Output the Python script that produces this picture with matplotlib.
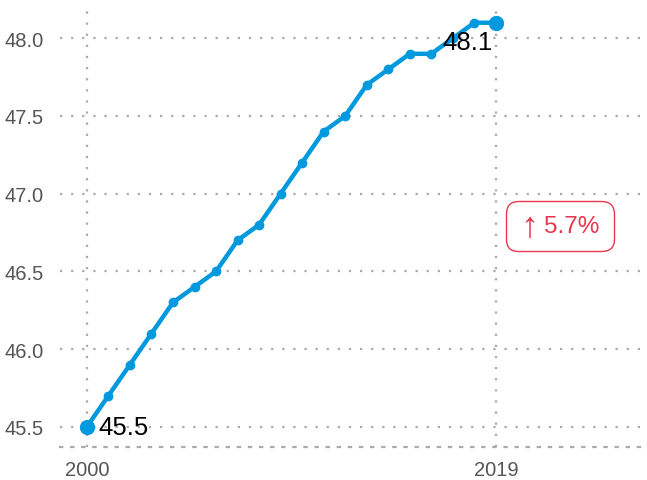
import matplotlib.pyplot as plt
from matplotlib.offsetbox import TextArea, HPacker, AnnotationBbox, DrawingArea

plt.rcParams['font.family'] = ['Liberation Sans', 'DejaVu Sans']

years = list(range(2000, 2020))
values = [45.5, 45.7, 45.9, 46.1, 46.3, 46.4, 46.5, 46.7, 46.8, 47.0,
          47.2, 47.4, 47.5, 47.7, 47.8, 47.9, 47.9, 48.0, 48.1, 48.1]
yticks = [45.5, 46.0, 46.5, 47.0, 47.5, 48.0]
xticks = [2000, 2019]

blue = '#0099DD'
red = '#E8384F'
grid_col = '#AAAAAA'
dots = (0, (1, 4))

fig = plt.figure(figsize=(6.47, 4.81), dpi=100)
ax = fig.add_axes([0.0927, 0.0686, 0.8963, 0.9144])

ax.plot(years, values, color=blue, lw=3.2, marker='o', ms=6, zorder=3,
        solid_capstyle='round')
ax.plot([years[0], years[-1]], [values[0], values[-1]], 'o', color=blue,
        ms=10, zorder=4)

ax.annotate(f'{values[0]:.1f}', (years[0], values[0]), xytext=(8, 0),
            textcoords='offset points', ha='left', va='center',
            fontsize=18.5, color='black', zorder=5)
ax.annotate(f'{values[-1]:.1f}', (years[-1], values[-1]), xytext=(-2, -14),
            textcoords='offset points', ha='right', va='center',
            fontsize=18.5, color='black', zorder=5)

# change badge: tall thin arrow + percentage in a rounded box
pct = (values[-1] - values[0]) / values[0] * 100
arrow = TextArea('↑', textprops=dict(fontsize=26, color=red,
                                     family='Liberation Sans'))
label = TextArea(f'{pct:.1f}%', textprops=dict(fontsize=17.5, color=red))
badge = HPacker(children=[DrawingArea(1, 1), arrow, label, DrawingArea(1, 1)],
                align='center', pad=0, sep=4)
ab = AnnotationBbox(badge, (0.862, 0.502), xycoords='axes fraction',
                    frameon=True, pad=0.55,
                    bboxprops=dict(boxstyle='round,pad=0.55,rounding_size=0.9',
                                   fc='white', ec=red, lw=1))
ax.add_artist(ab)

ax.set_xlim(1998.75, 2025.69)
ax.set_ylim(45.37, 48.2)
ax.set_xticks(xticks)
ax.set_yticks(yticks)
ax.set_yticklabels([f'{v:.1f}' for v in yticks])
ax.tick_params(length=0, labelsize=14.5, labelcolor='#555555')
ax.tick_params(axis='y', pad=12)
ax.tick_params(axis='x', pad=9)

ax.grid(True, color=grid_col, linestyle=dots, linewidth=1.6)
for s in ['top', 'right', 'left']:
    ax.spines[s].set_visible(False)
ax.spines['bottom'].set_color(grid_col)
ax.spines['bottom'].set_linestyle(dots)
ax.spines['bottom'].set_linewidth(1.6)

fig.savefig('out.png', dpi=100)
